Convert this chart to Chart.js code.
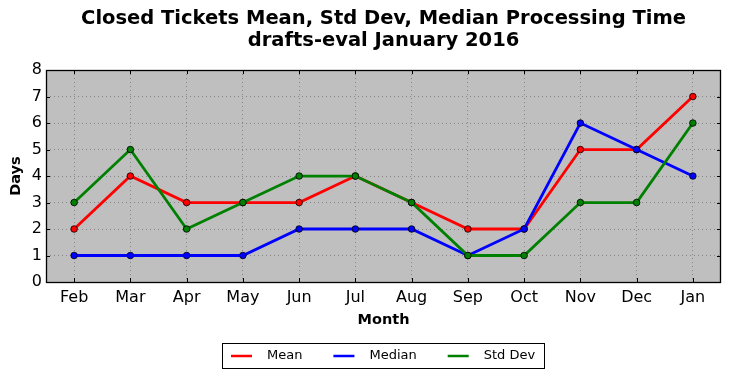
<!DOCTYPE html>
<html>
<head>
<meta charset="utf-8">
<script src="https://cdn.jsdelivr.net/npm/chart.js@4.4.1/dist/chart.umd.min.js"></script>
<style>
html,body{margin:0;padding:0;background:#fff;}
#wrap{width:731px;height:378px;}
</style>
</head>
<body>
<div id="wrap"><canvas id="c" width="731" height="378"></canvas></div>
<script>
const months = ["Feb","Mar","Apr","May","Jun","Jul","Aug","Sep","Oct","Nov","Dec","Jan"];
const meanDays   = [2,4,3,3,3,4,3,2,2,5,5,7];
const medianDays = [1,1,1,1,2,2,2,1,2,6,5,4];
const stdDevDays = [3,5,2,3,4,4,3,1,1,3,3,6];
const seriesNames = ["Mean","Median","Std Dev"];
const seriesColors = ["#ff0000","#0000ff","#008000"];
const titleLines = ["Closed Tickets Mean, Std Dev, Median Processing Time","drafts-eval January 2016"];

const FONT = "'DejaVu Sans', sans-serif";

const framePlugin = {
  id: 'frame',
  beforeDraw(chart) {
    const {ctx, chartArea: a} = chart;
    ctx.save();
    ctx.fillStyle = '#bfbfbf';
    ctx.fillRect(a.left, a.top, a.right - a.left, a.bottom - a.top);
    ctx.restore();
  },
  afterDraw(chart) {
    const {ctx, chartArea: a} = chart;
    const xs = chart.scales.x, ys = chart.scales.y;
    ctx.save();
    ctx.strokeStyle = '#000';
    ctx.lineWidth = 1;
    const L = 4;
    ctx.beginPath();
    ys.ticks.forEach((t, i) => {
      const y = Math.round(ys.getPixelForTick(i)) + 0.5;
      ctx.moveTo(a.left, y); ctx.lineTo(a.left + L, y);
      ctx.moveTo(a.right, y); ctx.lineTo(a.right - L, y);
    });
    xs.ticks.forEach((t, i) => {
      const x = Math.round(xs.getPixelForTick(i)) + 0.5;
      ctx.moveTo(x, a.bottom); ctx.lineTo(x, a.bottom - L);
      ctx.moveTo(x, a.top); ctx.lineTo(x, a.top + L);
    });
    ctx.stroke();
    ctx.lineWidth = 1.3;
    ctx.strokeRect(Math.round(a.left) + 0.5, Math.round(a.top) + 0.5, Math.round(a.right - a.left) - 1, Math.round(a.bottom - a.top));
    // legend
    const ds = chart.data.datasets;
    ctx.font = "13px " + FONT;
    const lineW = 21, gapT = 15, gapI = 31, pad = 9;
    let total = pad * 2;
    const widths = ds.map(d => ctx.measureText(d.label).width);
    widths.forEach((w, i) => { total += lineW + gapT + w + (i < widths.length - 1 ? gapI : 0); });
    const cx = (a.left + a.right) / 2;
    const bx = Math.round(cx - total / 2), by = 343, bh = 25;
    ctx.fillStyle = '#fff';
    ctx.fillRect(bx, by, total, bh);
    ctx.lineWidth = 1;
    ctx.strokeStyle = '#000';
    ctx.strokeRect(bx + 0.5, by + 0.5, Math.round(total), bh);
    let x = bx + pad;
    const yc = by + bh / 2 + 0.5;
    ds.forEach((d, i) => {
      ctx.strokeStyle = d.borderColor;
      ctx.lineWidth = 2.5;
      ctx.beginPath(); ctx.moveTo(x, yc); ctx.lineTo(x + lineW, yc); ctx.stroke();
      ctx.fillStyle = '#000';
      ctx.textBaseline = 'middle';
      ctx.textAlign = 'left';
      ctx.fillText(d.label, x + lineW + gapT, yc);
      x += lineW + gapT + widths[i] + gapI;
    });
    ctx.restore();
  }
};

const seriesData = [meanDays, medianDays, stdDevDays];
const datasets = seriesData.map((vals, i) => ({
  label: seriesNames[i],
  data: vals,
  borderColor: seriesColors[i],
  backgroundColor: seriesColors[i],
  borderWidth: 2.8,
  pointRadius: 3.3,
  pointHoverRadius: 3.3,
  pointBackgroundColor: seriesColors[i],
  pointBorderColor: '#000',
  pointBorderWidth: 0.8,
  tension: 0,
  fill: false,
  order: seriesData.length - i
}));

new Chart(document.getElementById('c'), {
  type: 'line',
  data: { labels: months, datasets },
  plugins: [framePlugin],
  options: {
    responsive: false,
    animation: false,
    devicePixelRatio: 1,
    layout: { padding: { left: 0, right: 10, top: 0, bottom: 46 } },
    plugins: {
      legend: { display: false },
      tooltip: { enabled: false },
      title: {
        display: true,
        text: titleLines,
        fullSize: false,
        color: '#000',
        font: { family: FONT, size: 19.5, weight: 'bold', lineHeight: 1.13 },
        padding: { top: 8, bottom: 18 }
      }
    },
    scales: {
      x: {
        offset: true,
        grid: { display: true, color: '#858585', lineWidth: 1, drawTicks: false, offset: false },
        border: { display: false, dash: [1, 3] },
        ticks: { color: '#000', font: { family: FONT, size: 16 }, padding: 6, maxRotation: 0, autoSkip: false },
        title: { display: true, text: 'Month', color: '#000', font: { family: FONT, size: 14.5, weight: 'bold', lineHeight: 1.2 }, padding: { top: 0, bottom: 3 } },
        afterFit(s) { s.height = 50; }
      },
      y: {
        min: 0, max: 8,
        grid: { display: true, color: '#858585', lineWidth: 1, drawTicks: false },
        border: { display: false, dash: [1, 3] },
        ticks: { stepSize: 1, color: '#000', font: { family: FONT, size: 16 }, padding: 4 },
        title: { display: true, text: 'Days', color: '#000', font: { family: FONT, size: 14.5, weight: 'bold', lineHeight: 1.2 }, padding: { top: 8, bottom: 0 } },
        afterFit(s) { s.width = 46; }
      }
    }
  }
});
</script>
</body>
</html>
